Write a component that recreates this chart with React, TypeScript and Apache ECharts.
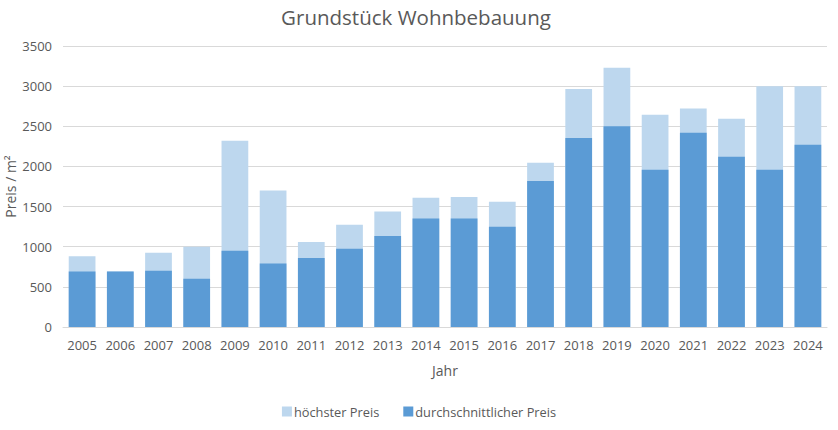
import React, { useEffect, useRef } from "react";
import * as echarts from "echarts";

const years = ["2005","2006","2007","2008","2009","2010","2011","2012","2013","2014","2015","2016","2017","2018","2019","2020","2021","2022","2023","2024"];
const hoechsterPreis = [880, 690, 925, 1000, 2320, 1700, 1060, 1275, 1440, 1610, 1620, 1560, 2045, 2965, 3230, 2645, 2720, 2595, 3000, 3000];
const durchschnittPreis = [690, 690, 700, 600, 950, 790, 860, 975, 1135, 1350, 1350, 1250, 1820, 2355, 2500, 1960, 2420, 2120, 1960, 2270];

const FONT = "'Open Sans', 'Noto Sans', sans-serif";
const TXT = "#595959";

export default function App() {
  const ref = useRef<HTMLDivElement>(null);
  useEffect(() => {
    if (!ref.current) return;
    const chart = echarts.init(ref.current, undefined, { renderer: "svg" });
    chart.setOption({
      animation: false,
      backgroundColor: "#ffffff",
      textStyle: { fontFamily: FONT },
      title: {
        text: "Grundstück Wohnbebauung",
        left: 411,
        textAlign: "center",
        top: 1,
        textStyle: { fontFamily: FONT, fontSize: 20.5, fontWeight: "normal", color: TXT },
      },
      legend: {
        bottom: 7,
        left: "center",
        itemWidth: 10,
        itemHeight: 10,
        itemGap: 24,
        icon: "rect",
        textStyle: { fontFamily: FONT, fontSize: 12.8, color: TXT, padding: [0, 0, 0, -3] },
        data: ["höchster Preis", "durchschnittlicher Preis"],
      },
      grid: { left: 63, right: 11, top: 46, bottom: 103, containLabel: false, outerBoundsMode: "none" },
      xAxis: {
        type: "category",
        data: years,
        name: "Jahr",
        nameLocation: "middle",
        nameGap: 36,
        nameTextStyle: { fontFamily: FONT, fontSize: 14, color: TXT },
        axisLine: { show: true, lineStyle: { color: "#d9d9d9" } },
        axisTick: { show: false },
        axisLabel: { fontFamily: FONT, fontSize: 13, color: TXT, margin: 11, interval: 0 },
      },
      yAxis: {
        type: "value",
        min: 0,
        max: 3500,
        interval: 500,
        name: "Preis / m²",
        nameLocation: "middle",
        nameGap: 46,
        nameMoveOverlap: false,
        nameTextStyle: { fontFamily: FONT, fontSize: 14, color: TXT },
        axisLine: { show: false },
        axisTick: { show: false },
        axisLabel: { fontFamily: FONT, fontSize: 13, color: TXT, margin: 11, formatter: (v: number) => String(v) },
        splitLine: { lineStyle: { color: "#d9d9d9" } },
      },
      series: [
        {
          name: "höchster Preis",
          type: "bar",
          data: hoechsterPreis,
          barCategoryGap: "30%",
          barGap: "-100%",
          itemStyle: { color: "#bdd7ee" },
        },
        {
          name: "durchschnittlicher Preis",
          type: "bar",
          data: durchschnittPreis,
          barCategoryGap: "30%",
          barGap: "-100%",
          itemStyle: { color: "#5b9bd5" },
        },
      ],
    });
    return () => chart.dispose();
  }, []);
  return <div ref={ref} style={{ width: 838, height: 430, position: "absolute", left: 0, top: 0 }} />;
}
